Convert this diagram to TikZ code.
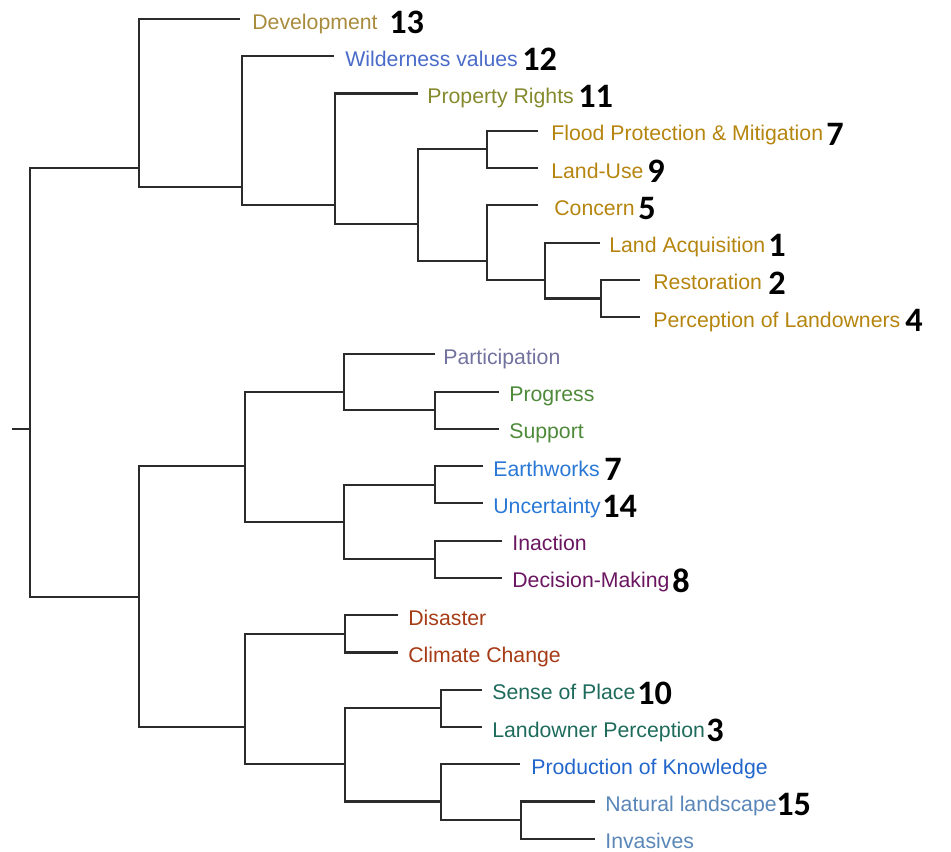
\documentclass[tikz,border=0pt]{standalone}
\usepackage{fontspec}
\setmainfont{Liberation Sans}
\newfontfamily\numfont{Carlito}

% label colours
\definecolor{treeline}{HTML}{2B2B2B}
\definecolor{cdev}{HTML}{A88B3C}
\definecolor{cwild}{HTML}{4A6CC8}
\definecolor{cprop}{HTML}{858A2E}
\definecolor{cgold}{HTML}{B5850F}
\definecolor{cpart}{HTML}{72729E}
\definecolor{cgreen}{HTML}{4E8A3A}
\definecolor{cblue}{HTML}{2A78D6}
\definecolor{cpurple}{HTML}{6A1660}
\definecolor{crust}{HTML}{A63C16}
\definecolor{cteal}{HTML}{1E6B5C}
\definecolor{cprod}{HTML}{2266CC}
\definecolor{csteel}{HTML}{5A86B8}

\tikzset{
  branch/.style={draw=treeline, line width=1.2pt, line join=miter},
  lbl/.style={anchor=base west, inner sep=0pt, yshift=-5.7pt,
              font=\fontsize{12.1}{14}\selectfont},
  num/.style={anchor=base west, inner sep=0pt, yshift=-8.2pt,
              font=\numfont\bfseries\fontsize{19.5}{22}\selectfont},
}

% leaf: name, row, end of branch (x), label x, colour, text
\newcommand\dleaf[6]{%
  \coordinate (#1) at (#3,#2);
  \node[lbl,text=#5] (#1-t) at (#4,#2) {#6};}
% count beside a leaf: name, row, x, number
\newcommand\dnum[4]{%
  \node[num] (#1-n) at (#3,#2) {#4};}

\begin{document}
\begin{tikzpicture}[x=0.02cm, y=-0.74540cm]
\useasboundingbox (0,-0.5098) rectangle (951,22.350);

% ---- leaves ----
\dleaf{dev}{0}{240}{252}{cdev}{Development}
\dleaf{wild}{1}{334}{345}{cwild}{Wilderness values}
\dleaf{prop}{2}{418}{427}{cprop}{Property Rights}
\dleaf{flood}{3}{538}{551}{cgold}{Flood Protection \& Mitigation}
\dleaf{landuse}{4}{538}{551}{cgold}{Land-Use}
\dleaf{concern}{5}{538}{554}{cgold}{Concern}
\dleaf{landacq}{6}{600}{609}{cgold}{Land Acquisition}
\dleaf{restor}{7}{640}{653}{cgold}{Restoration}
\dleaf{percep}{8}{640}{653}{cgold}{Perception of Landowners}
\dleaf{partic}{9}{435}{443}{cpart}{Participation}
\dleaf{progress}{10}{499}{509}{cgreen}{Progress}
\dleaf{support}{11}{499}{509}{cgreen}{Support}
\dleaf{earth}{12}{483}{493}{cblue}{Earthworks}
\dleaf{uncert}{13}{483}{493}{cblue}{Uncertainty}
\dleaf{inaction}{14}{502}{512}{cpurple}{Inaction}
\dleaf{decision}{15}{502}{512}{cpurple}{Decision-Making}
\dleaf{disaster}{16}{398}{408}{crust}{Disaster}
\dleaf{climate}{17}{398}{408}{crust}{Climate Change}
\dleaf{sense}{18}{482}{492}{cteal}{Sense of Place}
\dleaf{landowner}{19}{482}{492}{cteal}{Landowner Perception}
\dleaf{production}{20}{520}{531}{cprod}{Production of Knowledge}
\dleaf{natural}{21}{595}{605}{csteel}{Natural landscape}
\dleaf{invasives}{22}{595}{605}{csteel}{Invasives}

% ---- counts ----
\dnum{dev}{0}{389}{13}
\dnum{wild}{1}{522}{12}
\dnum{prop}{2}{578}{11}
\dnum{flood}{3}{826}{7}
\dnum{landuse}{4}{647}{9}
\dnum{concern}{5}{638}{5}
\dnum{landacq}{6}{768}{1}
\dnum{restor}{7}{768}{2}
\dnum{percep}{8}{905}{4}
\dnum{earth}{12}{604}{7}
\dnum{uncert}{13}{602}{14}
\dnum{decision}{15}{672}{8}
\dnum{sense}{18}{637}{10}
\dnum{landowner}{19}{706}{3}
\dnum{natural}{21}{776}{15}

% ---- internal joins ----
\coordinate (A) at (487,3.5);
\coordinate (B) at (601,7.5);
\coordinate (C) at (545,7);
\coordinate (D) at (487,6.5);
\coordinate (E) at (418,5.5);
\coordinate (F) at (335,5);
\coordinate (G) at (242,4.5);
\coordinate (H) at (139,4);
\coordinate (P) at (435,10.5);
\coordinate (Q) at (344,10);
\coordinate (R) at (435,12.5);
\coordinate (S) at (435,14.5);
\coordinate (T) at (344,13.5);
\coordinate (U) at (245,12);
\coordinate (V) at (345,16.5);
\coordinate (W) at (441,18.5);
\coordinate (X) at (521,21.5);
\coordinate (Y) at (441,21);
\coordinate (Z) at (345,20);
\coordinate (AA) at (245,19);
\coordinate (BB) at (139,15.5);
\coordinate (root) at (30,11);
\coordinate (stub) at (12,11);

% ---- branches ----
\draw[branch] (flood) -| (A) |- (landuse);
\draw[branch] (restor) -| (B) |- (percep);
\draw[branch] (landacq) -| (C) |- (B);
\draw[branch] (concern) -| (D) |- (C);
\draw[branch] (A) -| (E) |- (D);
\draw[branch] (prop) -| (F) |- (E);
\draw[branch] (wild) -| (G) |- (F);
\draw[branch] (dev) -| (H) |- (G);
\draw[branch] (progress) -| (P) |- (support);
\draw[branch] (partic) -| (Q) |- (P);
\draw[branch] (earth) -| (R) |- (uncert);
\draw[branch] (inaction) -| (S) |- (decision);
\draw[branch] (R) -| (T) |- (S);
\draw[branch] (Q) -| (U) |- (T);
\draw[branch] (disaster) -| (V) |- (climate);
\draw[branch] (sense) -| (W) |- (landowner);
\draw[branch] (natural) -| (X) |- (invasives);
\draw[branch] (production) -| (Y) |- (X);
\draw[branch] (W) -| (Z) |- (Y);
\draw[branch] (V) -| (AA) |- (Z);
\draw[branch] (U) -| (BB) |- (AA);
\draw[branch] (H) -| (root) |- (BB);
\draw[branch] (stub) -- (root);
\end{tikzpicture}
\end{document}
